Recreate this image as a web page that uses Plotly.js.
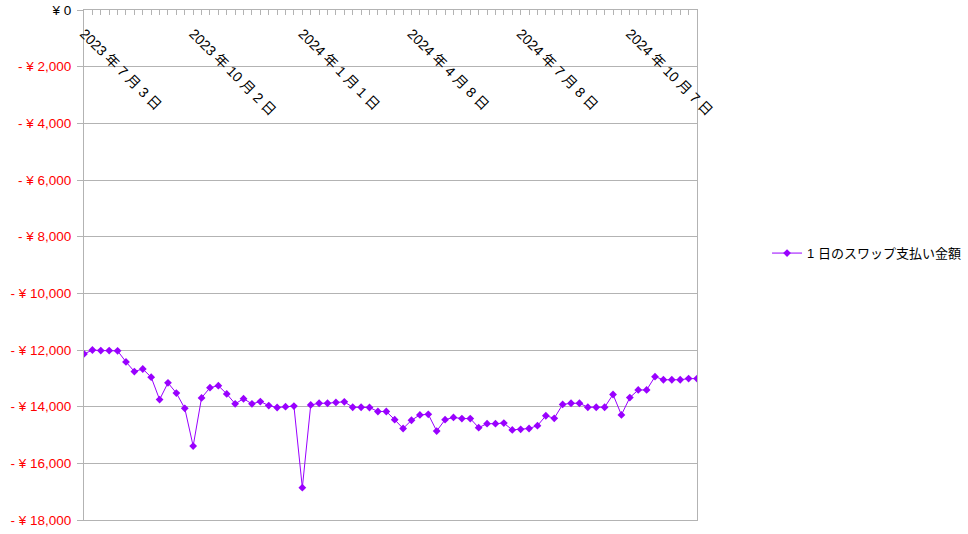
<!DOCTYPE html>
<html>
<head>
<meta charset="utf-8">
<script src="https://cdn.plot.ly/plotly-3.0.1.min.js"></script>
<style>html,body{margin:0;padding:0;background:#fff;}#chart{width:968px;height:534px;}</style>
</head>
<body>
<div id="chart"></div>
<script>
// Weekly categories (one per data point)
const dates = [
  "2023 年 7 月 3 日","2023 年 7 月 10 日","2023 年 7 月 17 日","2023 年 7 月 24 日","2023 年 7 月 31 日",
  "2023 年 8 月 7 日","2023 年 8 月 14 日","2023 年 8 月 21 日","2023 年 8 月 28 日","2023 年 9 月 4 日",
  "2023 年 9 月 11 日","2023 年 9 月 18 日","2023 年 9 月 25 日","2023 年 10 月 2 日","2023 年 10 月 9 日",
  "2023 年 10 月 16 日","2023 年 10 月 23 日","2023 年 10 月 30 日","2023 年 11 月 6 日","2023 年 11 月 13 日",
  "2023 年 11 月 20 日","2023 年 11 月 27 日","2023 年 12 月 4 日","2023 年 12 月 11 日","2023 年 12 月 18 日",
  "2023 年 12 月 25 日","2024 年 1 月 1 日","2024 年 1 月 8 日","2024 年 1 月 15 日","2024 年 1 月 22 日",
  "2024 年 1 月 29 日","2024 年 2 月 5 日","2024 年 2 月 12 日","2024 年 2 月 19 日","2024 年 2 月 26 日",
  "2024 年 3 月 4 日","2024 年 3 月 11 日","2024 年 3 月 18 日","2024 年 3 月 25 日","2024 年 4 月 8 日",
  "2024 年 4 月 15 日","2024 年 4 月 22 日","2024 年 4 月 29 日","2024 年 5 月 6 日","2024 年 5 月 13 日",
  "2024 年 5 月 20 日","2024 年 5 月 27 日","2024 年 6 月 3 日","2024 年 6 月 10 日","2024 年 6 月 17 日",
  "2024 年 6 月 24 日","2024 年 7 月 1 日","2024 年 7 月 8 日","2024 年 7 月 15 日","2024 年 7 月 22 日",
  "2024 年 7 月 29 日","2024 年 8 月 5 日","2024 年 8 月 12 日","2024 年 8 月 19 日","2024 年 8 月 26 日",
  "2024 年 9 月 2 日","2024 年 9 月 9 日","2024 年 9 月 16 日","2024 年 9 月 23 日","2024 年 9 月 30 日",
  "2024 年 10 月 7 日","2024 年 10 月 14 日","2024 年 10 月 21 日","2024 年 10 月 28 日","2024 年 11 月 4 日",
  "2024 年 11 月 11 日","2024 年 11 月 18 日","2024 年 11 月 25 日","2024 年 12 月 2 日"
];

// Dates that carry a visible tick label
const labelDates = [
  "2023 年 7 月 3 日","2023 年 10 月 2 日","2024 年 1 月 1 日",
  "2024 年 4 月 8 日","2024 年 7 月 8 日","2024 年 10 月 7 日"
];

// Daily swap payment (JPY)
const swapPay = [
  -12140,-12000,-12020,-12020,-12030,-12420,-12760,-12670,-12960,-13750,
  -13160,-13520,-14060,-15390,-13690,-13330,-13260,-13550,-13900,-13720,
  -13900,-13820,-13960,-14030,-14000,-13980,-16860,-13940,-13880,-13880,
  -13850,-13830,-14020,-14020,-14030,-14170,-14170,-14460,-14770,-14480,
  -14290,-14270,-14860,-14460,-14380,-14420,-14420,-14740,-14600,-14600,
  -14580,-14820,-14800,-14770,-14670,-14320,-14410,-13920,-13880,-13880,
  -14020,-14020,-14020,-13570,-14290,-13680,-13410,-13410,-12940,-13050,
  -13050,-13050,-13010,-13010
];

const seriesName = "1 日のスワップ支払い金額";

// Y axis ticks
const yTickVals = [0,-2000,-4000,-6000,-8000,-10000,-12000,-14000,-16000,-18000];
const yTickLabels = ["¥ 0","- ¥ 2,000","- ¥ 4,000","- ¥ 6,000","- ¥ 8,000","- ¥ 10,000","- ¥ 12,000","- ¥ 14,000","- ¥ 16,000","- ¥ 18,000"];

const yTickText = yTickLabels.map((t, i) =>
  yTickVals[i] < 0 ? '<span style="color:#ff0000">' + t + '</span>' : t);
const labelIdx = labelDates.map(d => dates.indexOf(d));

const FONT = 'Liberation Sans, Arial, "Noto Sans CJK JP", sans-serif';
const GRID = '#b3b3b3';

const trace = {
  x: dates,
  y: swapPay,
  type: 'scatter',
  mode: 'lines+markers',
  name: seriesName,
  line: {color: '#9900ff', width: 1},
  marker: {symbol: 'diamond', size: 6, color: '#9900ff'},
  hoverinfo: 'none'
};

// invisible companion trace so the label axis (x2) is created
const labelTrace = {
  x: labelIdx,
  y: labelIdx.map(i => swapPay[i]),
  xaxis: 'x2', yaxis: 'y',
  type: 'scatter', mode: 'markers',
  marker: {opacity: 0, size: 1},
  showlegend: false, hoverinfo: 'none'
};

const layout = {
  width: 968, height: 534,
  margin: {l: 84, r: 271, t: 10, b: 14, pad: 0},
  paper_bgcolor: '#ffffff',
  plot_bgcolor: '#ffffff',
  font: {family: FONT, size: 13, color: '#000000'},
  showlegend: true,
  legend: {
    xref: 'container', yref: 'container',
    x: 0.7924, y: 0.526, xanchor: 'left', yanchor: 'middle',
    font: {family: FONT, size: 13, color: '#000000'},
    bgcolor: 'rgba(0,0,0,0)'
  },
  xaxis: {
    type: 'category',
    side: 'top',
    range: [0, dates.length - 1],
    tickmode: 'array',
    tickvals: dates,
    showticklabels: false,
    ticks: 'inside', ticklen: 5, tickcolor: GRID, tickwidth: 1,
    showgrid: false,
    showline: true, linecolor: GRID, linewidth: 1, mirror: true,
    zeroline: false,
    fixedrange: true
  },
  xaxis2: {
    overlaying: 'x',
    anchor: 'free',
    position: 0.977,
    side: 'bottom',
    type: 'linear',
    range: [0, dates.length - 1],
    tickmode: 'array',
    tickvals: labelIdx,
    ticktext: labelDates,
    tickangle: 45,
    ticks: '',
    showline: false, showgrid: false, zeroline: false,
    automargin: false,
    tickfont: {family: FONT, size: 14, color: '#000000'},
    fixedrange: true
  },
  yaxis: {
    range: [-18000, 0],
    tickmode: 'array',
    tickvals: yTickVals,
    ticktext: yTickText,
    ticks: 'outside', ticklen: 6, tickcolor: GRID,
    ticklabelstandoff: 3,
    showgrid: true, gridcolor: GRID, gridwidth: 1,
    showline: true, linecolor: GRID, linewidth: 1, mirror: true,
    zeroline: false,
    automargin: false,
    tickfont: {family: FONT, size: 13.5, color: '#000000'},
    fixedrange: true
  }
};

Plotly.newPlot('chart', [trace, labelTrace], layout, {staticPlot: true, displayModeBar: false});
</script>
</body>
</html>
